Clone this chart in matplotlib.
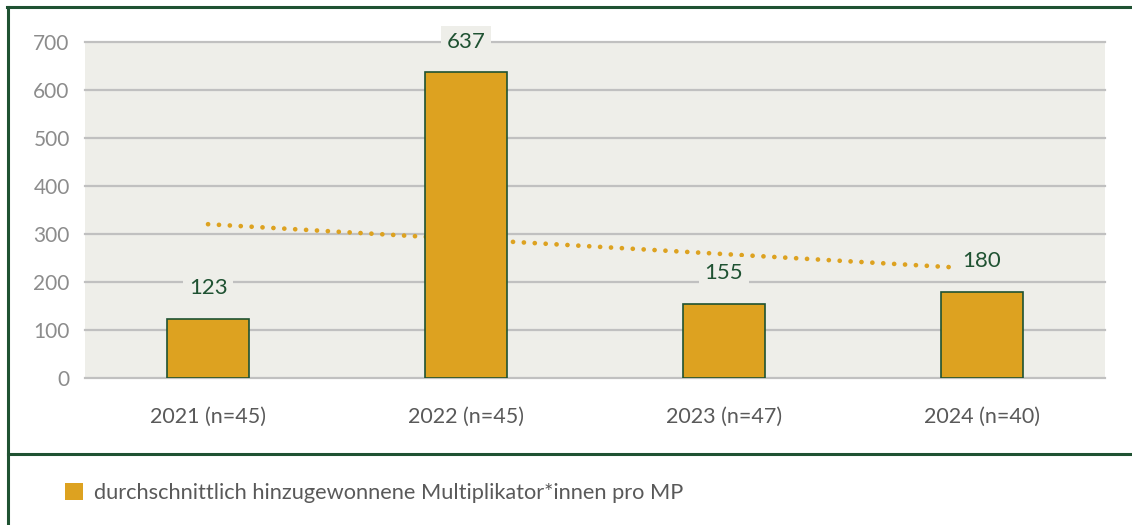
import matplotlib.pyplot as plt
import numpy as np
from matplotlib.lines import Line2D

plt.rcParams['font.family'] = ['Lato', 'DejaVu Sans']

# data
years = ['2021 (n=45)', '2022 (n=45)', '2023 (n=47)', '2024 (n=40)']
values = [123, 637, 155, 180]
legend_label = 'durchschnittlich hinzugewonnene Multiplikator*innen pro MP'
y_ticks = [0, 100, 200, 300, 400, 500, 600, 700]

gold = '#DDA220'
dark_green = '#1F5232'
plot_bg = '#EEEEE9'
grid_col = '#C0C0C0'

fig = plt.figure(figsize=(11.32, 5.25), dpi=100)
ax = fig.add_axes([85 / 1132, 1 - 378 / 525, 1020 / 1132, 336 / 525])
ax.set_facecolor(plot_bg)

x = np.arange(len(years))
bars = ax.bar(x, values, width=0.32, color=gold, edgecolor=dark_green,
              linewidth=1.2, zorder=3, label=legend_label)

# linear trend line (behind the bars)
coef = np.polyfit(x, values, 1)
ax.plot(x, np.polyval(coef, x), color=gold, linewidth=3.4,
        linestyle=(0, (0.01, 2.3)), dash_capstyle='round', zorder=2)

# gridlines
for t in y_ticks:
    ax.axhline(t, color=grid_col, linewidth=1.6, zorder=1, clip_on=False)

# value labels
for xi, v in zip(x, values):
    ax.annotate(str(v), (xi, v), xytext=(0, 22), textcoords='offset points',
                ha='center', va='center', fontsize=16, color=dark_green, zorder=5,
                bbox=dict(boxstyle='square,pad=0.25', facecolor=plot_bg, edgecolor='none'),
                annotation_clip=False)

ax.set_xlim(-0.477, 3.477)
ax.set_ylim(0, 700)
ax.set_yticks(y_ticks)
ax.set_xticks(x)
ax.set_xticklabels(years)
for s in ax.spines.values():
    s.set_visible(False)
ax.tick_params(axis='y', length=0, pad=11, labelsize=15, labelcolor='#8C8C8C')
ax.tick_params(axis='x', length=0, pad=21, labelsize=15.5, labelcolor='#595959')

# frame around chart and divider above legend
tr = fig.transFigure
fig.add_artist(Line2D([8 / 1132, 8 / 1132], [0, 1 - 7 / 525], color=dark_green, linewidth=2.2, transform=tr))
fig.add_artist(Line2D([7 / 1132, 1], [1 - 7 / 525, 1 - 7 / 525], color=dark_green, linewidth=2.2, transform=tr))
fig.add_artist(Line2D([8 / 1132, 1], [1 - 454 / 525, 1 - 454 / 525], color=dark_green, linewidth=2.2, transform=tr))

leg = fig.legend(handles=[bars], labels=[legend_label], loc='center left',
                 bbox_to_anchor=(45 / 1132, 1 - 493 / 525), frameon=False,
                 handlelength=0.85, handleheight=0.85, handletextpad=0.5,
                 fontsize=15.7, labelcolor='#595959')
for h in leg.legend_handles:
    h.set_edgecolor('none')

fig.savefig('out.png', dpi=100)
